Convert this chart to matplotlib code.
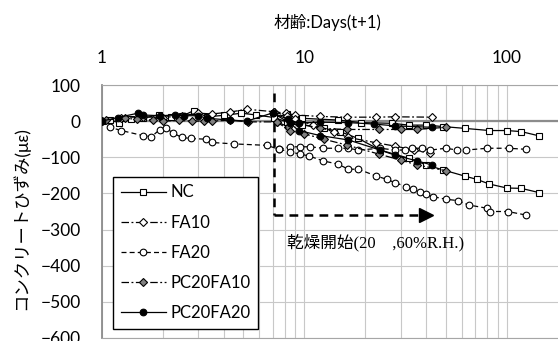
import matplotlib
matplotlib.use("Agg")
import matplotlib.pyplot as plt
import matplotlib.ticker as ticker

plt.rcParams['font.family'] = ['Lato', 'Noto Sans CJK JP', 'DejaVu Sans']

# --- data (age in days t+1, strain in micro-strain) ---
# NC
nc_sealed_age = [1.0, 1.1, 1.22, 1.4, 1.6, 1.92, 2.2, 2.5, 2.84, 3.3, 4.0, 4.9, 5.8, 7.1,
                 8.2, 9.7, 14.7, 19, 27, 33, 40, 48.5, 62, 82, 100, 118, 145]
nc_sealed_val = [0, 2, -4, 6, 8, 18, 12, 14, 29, 12, 16, 22, 17, 10,
                 19, 8, 3, -4, -6, -11, -11, -15, -20, -26, -26, -29, -41]
nc_dry_age = [7.1, 8.2, 9.7, 12.5, 15, 18.5, 23.7, 33, 40, 48.5, 62, 71, 82, 100, 118, 145]
nc_dry_val = [10, -2, -10, -20, -29, -48, -80, -103, -121, -135, -152, -161, -174, -185, -186, -198]

# FA10
fa10_sealed_age = [1.0, 1.25, 1.6, 2.0, 2.5, 3.0, 3.5, 4.3, 5.2, 7.1, 8.1, 9, 12, 16.2, 22.7, 28, 42.5]
fa10_sealed_val = [0, 10, 12, 10, 15, 22, 20, 25, 33, 26, 22, 17, 13, 11, 11, 12, 11]
fa10_dry_age = [7.1, 8.2, 9, 11, 14, 16.5, 22.7, 28, 35, 42]
fa10_dry_val = [26, 14, 5, -10, -30, -45, -60, -69, -80, -89]

# FA20
fa20_sealed_age = [1.0, 1.1, 1.25, 1.6, 1.76, 1.93, 2.08, 2.24, 2.48, 2.75, 3.27, 3.49, 4.51, 6.53, 7.54,
                   8.5, 9.5, 10.7, 12.4, 14.7, 16.5, 18.5, 23.7, 28, 31.3, 34, 38, 42, 50, 57, 63, 80,
                   102, 125]
fa20_sealed_val = [0, -17, -26, -40, -43, -24, -20, -32, -45, -48, -50, -59, -63, -67, -78,
                   -71, -71, -71, -75, -75, -75, -80, -75, -80, -80, -75, -75, -80, -75, -80, -80, -75,
                   -75, -78]
fa20_dry_age = [7.54, 8.5, 9.5, 10.5, 12.4, 14.7, 16.5, 18.5, 22.7, 25.6, 28, 31.8, 34.5, 37.3, 40,
                43.3, 50, 57.5, 64.8, 80, 83, 101, 125]
fa20_dry_val = [-78, -85, -91, -96, -110, -119, -133, -133, -152, -161, -170, -181, -189, -195, -202,
                -209, -216, -220, -232, -241, -250, -250, -260]

# PC20FA10
pf10_sealed_age = [1.05, 1.3, 1.5, 1.8, 2.0, 2.4, 2.8, 3.2, 3.5, 4.3, 5.3, 7.3, 8.3, 9.3, 12, 16.2,
                   23.3, 30, 36, 50]
pf10_sealed_val = [3, 8, 5, 3, 0, 2, 0, 0, 0, 3, -2, -2, -15, -6, -20, -23, -23, -23, -23, -17]
pf10_dry_age = [7.3, 8.5, 10, 12.5, 16.2, 23.3, 30, 36, 50]
pf10_dry_val = [-2, -26, -35, -50, -66, -91, -108, -121, -137]

# PC20FA20
pf20_sealed_age = [1.0, 1.2, 1.51, 1.6, 1.95, 2.3, 2.56, 3.0, 3.3, 4.3, 5.2, 7.0, 8.3, 9.4, 12, 16.5,
                   22, 28, 42.5]
pf20_sealed_val = [0, 10, 22, 17, 15, 17, 15, 15, 8, 3, 0, 23, 5, -5, -3, -4, -8, -13, -17]
pf20_dry_age = [7.0, 8.5, 9.4, 12, 16.5, 23.7, 28, 36, 42.5]
pf20_dry_val = [23, -6, -26, -40, -52, -80, -94, -110, -121]

labels = ['NC', 'FA10', 'FA20', 'PC20FA10', 'PC20FA20']
dry_start = 7.1
arrow_end = 40.0
arrow_y = -260

fig = plt.figure(figsize=(5.58, 3.41), dpi=100)
ax = fig.add_axes([101.7 / 558, 3 / 341, 1 - 101.7 / 558, 253 / 341])

styles = [
    dict(ls='-', marker='s', mfc='white', ms=5),
    dict(ls=(0, (6, 2, 1.5, 2)), marker='D', mfc='white', ms=4.2),
    dict(ls=(0, (4, 2.5)), marker='o', mfc='white', ms=4.8),
    dict(ls=(0, (6, 2, 1.5, 2)), marker='D', mfc='#808080', ms=4.2),
    dict(ls='-', marker='o', mfc='black', ms=4.8),
]
series = [
    (nc_sealed_age, nc_sealed_val, nc_dry_age, nc_dry_val),
    (fa10_sealed_age, fa10_sealed_val, fa10_dry_age, fa10_dry_val),
    (fa20_sealed_age, fa20_sealed_val, fa20_dry_age, fa20_dry_val),
    (pf10_sealed_age, pf10_sealed_val, pf10_dry_age, pf10_dry_val),
    (pf20_sealed_age, pf20_sealed_val, pf20_dry_age, pf20_dry_val),
]
for i, (sa, sv, da, dv) in enumerate(series):
    st = styles[i]
    kw = dict(color='black', lw=0.9, mec='black', mew=0.8, zorder=3 + i)
    ax.plot(sa, sv, ls=st['ls'], marker=st['marker'], mfc=st['mfc'], ms=st['ms'], label=labels[i], **kw)
    ax.plot(da, dv, ls=st['ls'], marker=st['marker'], mfc=st['mfc'], ms=st['ms'], **kw)

# drying start marker + arrow
ax.plot([dry_start, dry_start], [78, arrow_y], color='black', lw=1.8, ls=(0, (3.5, 2.5)), zorder=2)
ax.plot([dry_start, arrow_end * 0.93], [arrow_y, arrow_y], color='black', lw=1.8, ls=(0, (3.5, 2.5)), zorder=2)
ax.plot([arrow_end], [arrow_y], marker='>', color='black', ms=10, zorder=2)
ax.text(8.2, -337, '乾燥開始(20\u3000,60%R.H.)', fontsize=12, va='center', ha='left',
        family=['Liberation Serif', 'Noto Sans CJK JP'])

ax.set_xscale('log')
ax.set_xlim(1, 179)
ax.set_ylim(-600, 100)
ax.set_yticks(range(-600, 101, 100))
ax.xaxis.tick_top()
ax.xaxis.set_major_locator(ticker.FixedLocator([1, 10, 100]))
ax.xaxis.set_major_formatter(ticker.FuncFormatter(lambda v, p: f'{v:g}'))
ax.xaxis.set_minor_locator(ticker.LogLocator(base=10, subs=range(2, 10)))
ax.xaxis.set_minor_formatter(ticker.NullFormatter())
ax.tick_params(axis='x', which='both', length=0, pad=14, labelsize=12.5)
ax.tick_params(axis='y', length=0, pad=15, labelsize=12.5)
ax.grid(True, which='both', color='#c8c8c8', lw=0.8)
ax.set_axisbelow(True)
ax.axhline(0, color='#8c8c8c', lw=1.6, zorder=1.5)

for s in ['top', 'bottom']:
    ax.spines[s].set_color('#a6a6a6')
ax.spines['left'].set_color('#8c8c8c')
ax.spines['left'].set_linewidth(1.3)
ax.spines['right'].set_visible(False)

fig.text(328 / 558, 1 - 22 / 341, '材齢:Days(t+1)', ha='center', va='center', fontsize=12)
fig.text(20 / 558, 0.36, 'コンクリートひずみ(με)', rotation=90, ha='center', va='center', fontsize=12.5)

leg = ax.legend(loc='upper left', bbox_to_anchor=(0.025, 0.637), fontsize=12, numpoints=1,
                handlelength=2.7, handletextpad=0.3, labelspacing=0.85, borderpad=0.45,
                borderaxespad=0, fancybox=False, edgecolor='black', framealpha=1)
leg.get_frame().set_linewidth(1.0)
leg.set_zorder(10)

fig.savefig('out.png', dpi=100)
